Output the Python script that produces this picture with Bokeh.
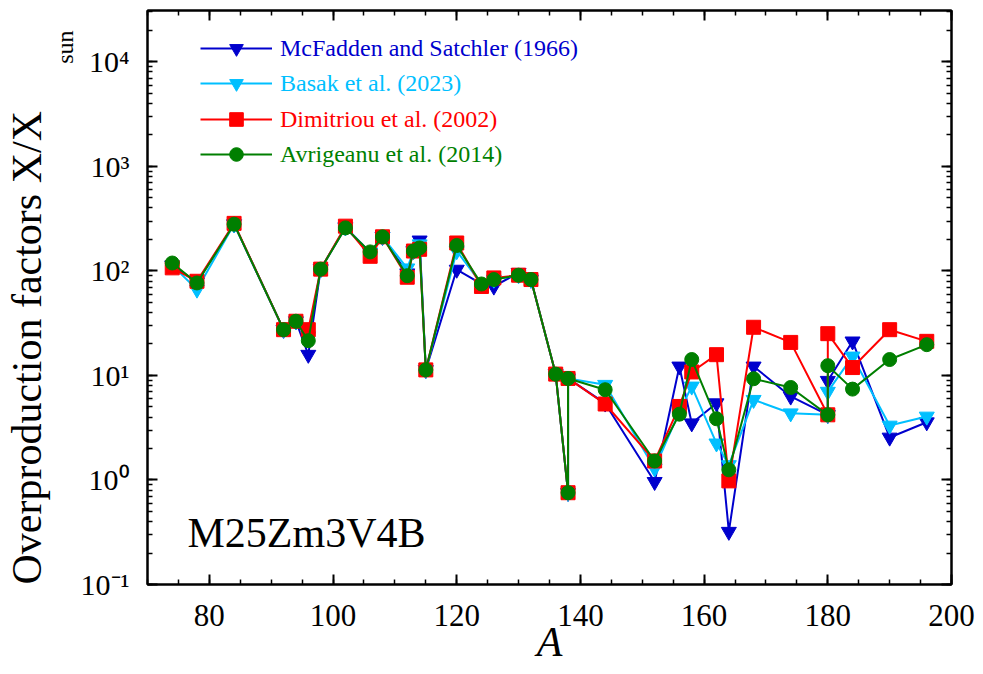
from bokeh.plotting import figure
from bokeh.models import (Range1d, Legend, LegendItem, Label, LinearAxis, LogAxis, Title,
                          SingleIntervalTicker, LogTicker, CustomJSTickFormatter)
from bokeh.embed import file_html
from bokeh.resources import INLINE

# ---------------- data ----------------
A = [74, 78, 84, 92, 94, 96, 98, 102, 106, 108, 112, 113, 114, 115, 120, 124, 126, 130, 132,
     136, 138, 138, 144, 152, 156, 158, 162, 164, 168, 174, 180, 180, 184, 190, 196]

mcfadden = [113, 78, 280, 27.4, 33, 15.8, 104, 262, 150, 212, 95, 155, 196, 11.3, 103, 75, 71, 96, 82.7,
            10.3, 0.755, 9.36, 5.4, 0.96, 12.2, 3.49, 5.43, 0.32, 12.2, 6.3, 4.2, 8.9, 21.2, 2.55, 3.57]
basak = [113, 66.4, 280, 27.4, 33, 23.7, 104, 262, 150, 212, 106, 155, 180, 11.3, 155, 75, 82.7, 91, 82.7,
         10.3, 0.755, 9.36, 8.15, 1.29, 4.5, 7.85, 2.24, 1.39, 5.85, 4.35, 4.2, 7.0, 15.2, 3.32, 4.05]
dimitriou = [107, 79.6, 285, 27.4, 33, 27.4, 104, 268, 138, 212, 87, 155, 161, 11.3, 185, 71, 85.7, 91, 82.7,
             10.3, 0.755, 9.36, 5.33, 1.52, 5.05, 10.8, 15.8, 0.98, 28.9, 20.7, 4.2, 25.1, 11.9, 27.4, 21.2]
avrigeanu = [119, 76.7, 280, 27.4, 33, 21.5, 104, 258, 152, 212, 90, 155, 166, 11.3, 175, 75, 82.7, 91, 82.7,
             10.3, 0.755, 9.36, 7.3, 1.52, 4.26, 14.2, 3.85, 1.25, 9.3, 7.67, 4.2, 12.4, 7.4, 14.2, 19.7]

series_names = ["McFadden and Satchler (1966)", "Basak et al. (2023)",
                "Dimitriou et al. (2002)", "Avrigeanu et al. (2014)"]
series_values = [mcfadden, basak, dimitriou, avrigeanu]
series_colors = ["#0000CD", "#00BFFF", "#FF0000", "#007F00"]
series_markers = ["inverted_triangle", "inverted_triangle", "square", "circle"]
series_sizes = [15, 15, 14, 14]

y_tick_labels = {0.1: "10\u207b\u00b9", 1: "10\u2070", 10: "10\u00b9", 100: "10\u00b2",
                 1000: "10\u00b3", 10000: "10\u2074"}
model_label = "M25Zm3V4B"
y_title = "Overproduction factors  X/X"
y_title_sub = "sun"

FONT = "Liberation Serif"

# ---------------- figure ----------------
p = figure(width=983, height=674, x_range=Range1d(70, 200), y_range=Range1d(0.1, 3.1e4),
           y_axis_type="log", output_backend="svg", toolbar_location=None,
           min_border_left=147, min_border_right=32, min_border_top=10, min_border_bottom=90)
p.xgrid.visible = False
p.ygrid.visible = False
p.outline_line_color = "black"
p.outline_line_width = 2
p.background_fill_color = "white"
p.border_fill_color = "white"

xt = SingleIntervalTicker(interval=20, num_minor_ticks=4)
yt = LogTicker(num_minor_ticks=10)

def style_axis(ax, show_labels):
    ax.axis_line_width = 2
    ax.axis_line_color = "black"
    ax.major_tick_in = 10
    ax.major_tick_out = 0
    ax.minor_tick_in = 5
    ax.minor_tick_out = 0
    ax.major_tick_line_width = 2
    ax.minor_tick_line_width = 1.5
    ax.major_tick_line_color = "black"
    ax.minor_tick_line_color = "black"
    if show_labels:
        ax.major_label_text_font = FONT
        ax.major_label_text_font_size = "31px"
        ax.major_label_text_color = "black"
    else:
        ax.formatter = CustomJSTickFormatter(code="return ''")
        ax.major_label_text_font_size = "2px"
        ax.major_label_standoff = 0

xax = p.xaxis[0]
xax.ticker = xt
style_axis(xax, True)
xax.major_label_standoff = 20
xax.axis_label = "A"
xax.axis_label_text_font = FONT
xax.axis_label_text_font_style = "italic"
xax.axis_label_text_font_size = "42px"
xax.axis_label_text_color = "black"
xax.axis_label_standoff = -10

yax = p.yaxis[0]
yax.ticker = yt
style_axis(yax, True)
yax.major_label_text_font_size = "30px"
yax.major_label_standoff = 18
yax.major_label_overrides = y_tick_labels

top_ax = LinearAxis(ticker=xt)
style_axis(top_ax, False)
p.add_layout(top_ax, "above")
right_ax = LogAxis(ticker=yt)
style_axis(right_ax, False)
p.add_layout(right_ax, "right")

# y-axis title: subscript panel first (closer to the frame), then the main text
p.add_layout(Title(text=y_title_sub, text_font=FONT, text_font_size="24px", text_font_style="normal",
                   text_color="black", align="right", offset=20, standoff=0), "left")
p.add_layout(Title(text=y_title, text_font=FONT, text_font_size="42px", text_font_style="normal",
                   text_color="black", align="left", offset=0, standoff=0), "left")

# ---------------- series ----------------
renderers = []
for vals, color, marker, size in zip(series_values, series_colors, series_markers, series_sizes):
    r_line = p.line(A, vals, line_color=color, line_width=2)
    r_pts = p.scatter(A, vals, marker=marker, size=size, fill_color=color, line_color=color)
    renderers.append([r_line, r_pts])

# ---------------- legends (one per item for coloured text) ----------------
legend_bottoms = [518.7, 483.7, 447.7, 413.0]
for name, color, rends, vy in zip(series_names, series_colors, renderers, legend_bottoms):
    leg = Legend(items=[LegendItem(label=name, renderers=rends)], location=(53, vy),
                 label_text_color=color, label_text_font=FONT, label_text_font_size="24px",
                 glyph_width=72, glyph_height=34, label_height=34, label_standoff=8,
                 padding=0, margin=0, spacing=0, border_line_alpha=0, background_fill_alpha=0)
    p.add_layout(leg)

# ---------------- text annotation ----------------
p.add_layout(Label(x=76.47, y=0.31, text=model_label, text_font=FONT, text_font_size="42px",
                   text_color="black", text_align="left", text_baseline="alphabetic"))

with open("out.html", "w", encoding="utf-8") as f:
    f.write(file_html(p, INLINE))
